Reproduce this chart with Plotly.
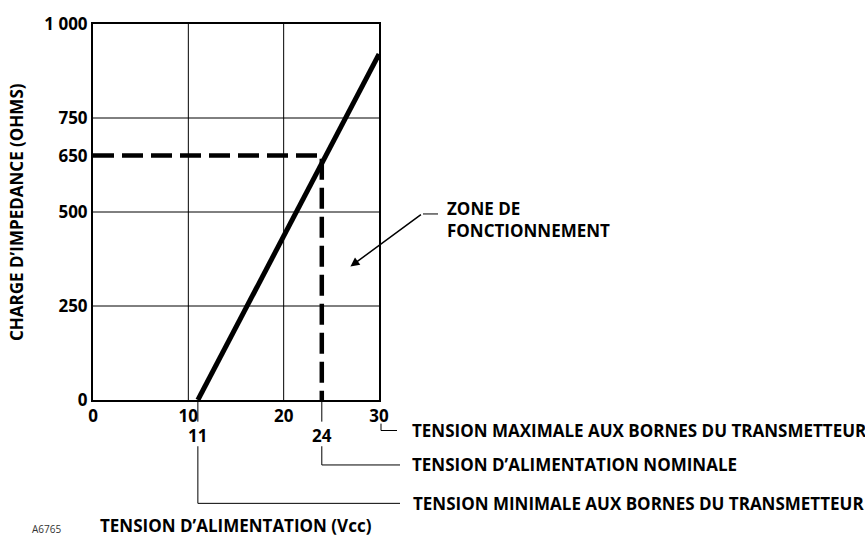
import plotly.graph_objects as go

# ---- data ----
x_ticks = [0, 10, 20, 30]
y_ticks = [0, 250, 500, 650, 750, 1000]
y_ticktext = ["0", "250", "500", "650", "750", "1 000"]
grid_x = [10, 20]
grid_y = [250, 500, 750]

load_v = [11, 30]          # supply voltage (Vcc)
load_ohm = [0, 920]        # load (ohms)

nominal_v = 24
nominal_ohm = 650
min_v = 11
max_v = 30

zone_point = [27.0, 355]

FONT = "Open Sans"
X_RANGE = [0, 30]
Y_RANGE = [0, 1000]

# ---- layout geometry (pixels) ----
W, H = 865, 538
ML, MR, MT, MB = 93, 486, 18, 138
PW = W - ML - MR
PH = H - MT - MB

def xp(v):  # data x -> paper
    return (v - X_RANGE[0]) / (X_RANGE[1] - X_RANGE[0])

def px_x(px):  # pixel x -> paper
    return (px - ML) / PW

def px_y(py):  # pixel y -> paper
    return (H - MB - py) / PH

fig = go.Figure()

# dashed nominal lines
fig.add_trace(go.Scatter(
    x=[X_RANGE[0], nominal_v, nominal_v], y=[nominal_ohm, nominal_ohm, Y_RANGE[0]],
    mode="lines", line=dict(color="black", width=4.5, dash="21px,8px"),
    hoverinfo="skip", showlegend=False))

# load line
fig.add_trace(go.Scatter(
    x=load_v, y=load_ohm, mode="lines",
    line=dict(color="black", width=5), hoverinfo="skip", showlegend=False))

shapes = []
for gx in grid_x:
    shapes.append(dict(type="line", xref="x", yref="y", x0=gx, x1=gx, y0=Y_RANGE[0], y1=Y_RANGE[1],
                       line=dict(color="black", width=1), layer="below"))
for gy in grid_y:
    shapes.append(dict(type="line", xref="x", yref="y", x0=X_RANGE[0], x1=X_RANGE[1], y0=gy, y1=gy,
                       line=dict(color="black", width=1), layer="below"))

def pline(pts):
    path = "M " + " L ".join(f"{x},{y}" for x, y in pts)
    return dict(type="path", xref="paper", yref="paper", path=path,
                line=dict(color="black", width=1))

lead_end = px_x(400)
# 11 tick + leader
shapes.append(pline([(xp(min_v), px_y(400)), (xp(min_v), px_y(422))]))
shapes.append(pline([(xp(min_v), px_y(447)), (xp(min_v), px_y(505)), (lead_end, px_y(505))]))
# 24 tick + leader
shapes.append(pline([(xp(nominal_v), px_y(400)), (xp(nominal_v), px_y(422))]))
shapes.append(pline([(xp(nominal_v), px_y(447)), (xp(nominal_v), px_y(466)), (lead_end, px_y(466))]))
# 30 leader
shapes.append(pline([(px_x(381), px_y(424)), (px_x(381), px_y(431)), (px_x(397), px_y(431))]))
# zone leader horizontal
shapes.append(pline([(px_x(423), px_y(211)), (px_x(438), px_y(211))]))

bold = dict(family=FONT, size=17, color="black", weight="bold")

annotations = [
    dict(xref="paper", yref="paper", x=xp(min_v), y=px_y(436), text="11", showarrow=False,
         font=bold, xanchor="center", yanchor="middle"),
    dict(xref="paper", yref="paper", x=xp(nominal_v), y=px_y(436), text="24", showarrow=False,
         font=bold, xanchor="center", yanchor="middle"),
    dict(xref="paper", yref="paper", x=px_x(410), y=px_y(431),
         text="TENSION MAXIMALE AUX BORNES DU TRANSMETTEUR", showarrow=False,
         font=bold, xanchor="left", yanchor="middle"),
    dict(xref="paper", yref="paper", x=px_x(410), y=px_y(466),
         text="TENSION D’ALIMENTATION NOMINALE", showarrow=False,
         font=bold, xanchor="left", yanchor="middle"),
    dict(xref="paper", yref="paper", x=px_x(411), y=px_y(505),
         text="TENSION MINIMALE AUX BORNES DU TRANSMETTEUR", showarrow=False,
         font=bold, xanchor="left", yanchor="middle"),
    dict(xref="paper", yref="paper", x=0.5, y=px_y(527),
         text="TENSION D’ALIMENTATION (Vcc)", showarrow=False,
         font=bold, xanchor="center", yanchor="middle"),
    dict(xref="paper", yref="paper", x=px_x(16), y=0.5,
         text="CHARGE D’IMPEDANCE (OHMS)", showarrow=False, textangle=-90,
         font=bold, xanchor="center", yanchor="middle"),
    dict(xref="paper", yref="paper", x=px_x(30), y=px_y(531), text="A6765", showarrow=False,
         font=dict(family=FONT, size=10, color="#333"), xanchor="left", yanchor="middle"),
    dict(xref="paper", yref="paper", x=px_x(445), y=px_y(217),
         text="ZONE DE<br>FONCTIONNEMENT", showarrow=False, align="left",
         font=bold, xanchor="left", yanchor="middle"),
    dict(x=zone_point[0], y=zone_point[1], xref="x", yref="y",
         ax=423 - 351, ay=211 - 264,
         showarrow=True, arrowhead=2, arrowsize=1.2, arrowwidth=1.5, arrowcolor="black", text=""),
]

fig.update_layout(
    width=W, height=H,
    margin=dict(l=ML, r=MR, t=MT, b=MB),
    plot_bgcolor="white", paper_bgcolor="white",
    shapes=shapes, annotations=annotations,
    xaxis=dict(range=X_RANGE, tickvals=x_ticks, showgrid=False, zeroline=False,
               showline=True, linecolor="black", linewidth=2, mirror=True,
               ticks="", tickfont=dict(family=FONT, size=17, color="black", weight="bold"),
               fixedrange=True),
    yaxis=dict(range=Y_RANGE, tickvals=y_ticks, ticktext=y_ticktext, showgrid=False, zeroline=False,
               showline=True, linecolor="black", linewidth=2, mirror=True,
               ticks="", tickfont=dict(family=FONT, size=17, color="black", weight="bold"),
               fixedrange=True),
    showlegend=False,
)

fig.write_html("out.html", config={"displayModeBar": False},
               post_script="document.body.style.margin='0';document.body.style.overflow='hidden';")
